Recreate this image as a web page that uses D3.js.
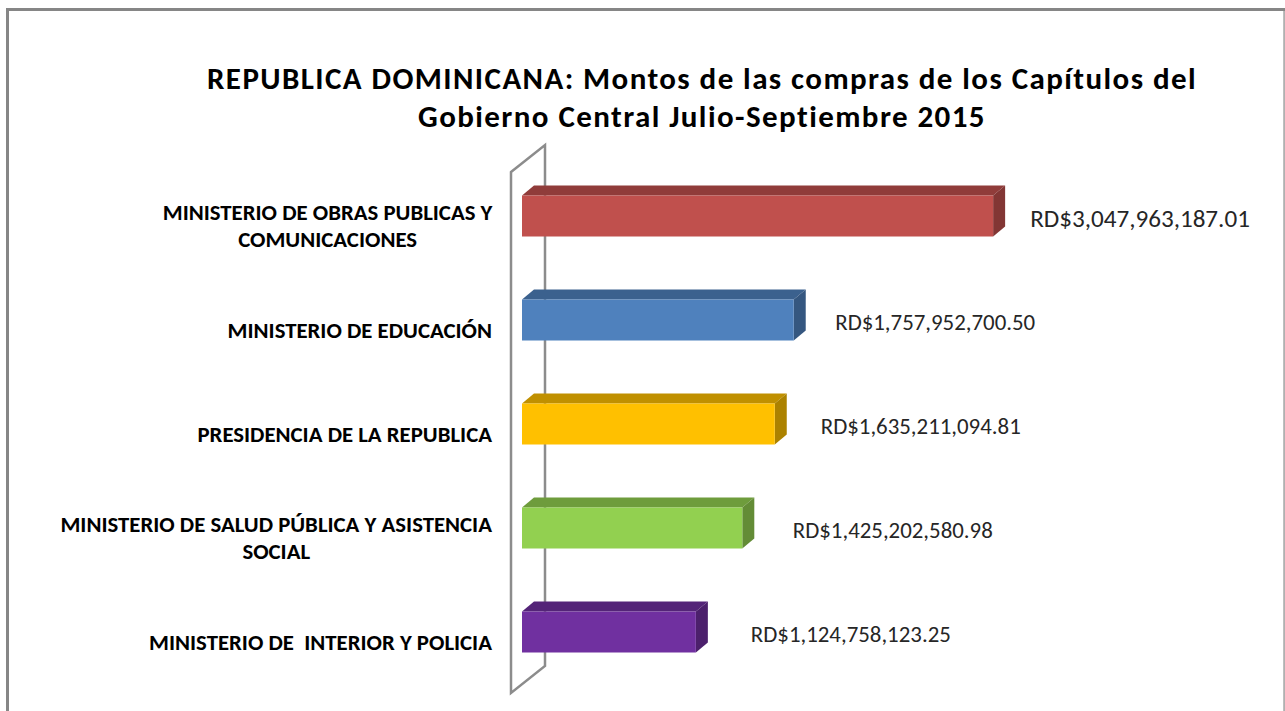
<!DOCTYPE html>
<html>
<head>
<meta charset="utf-8">
<script src="https://cdn.jsdelivr.net/npm/d3@7"></script>
<style>
  html, body { margin: 0; padding: 0; background: #ffffff; }
  svg { display: block; }
  text { white-space: pre; }
</style>
</head>
<body>
<svg id="chart" width="1285" height="711"></svg>
<script>
// ---- data ----
const categories = [
  "MINISTERIO DE OBRAS PUBLICAS Y\nCOMUNICACIONES",
  "MINISTERIO DE EDUCACIÓN",
  "PRESIDENCIA DE LA REPUBLICA",
  "MINISTERIO DE SALUD PÚBLICA Y ASISTENCIA\nSOCIAL",
  "MINISTERIO DE  INTERIOR Y POLICIA"
];
const values = [3047963187.01, 1757952700.50, 1635211094.81, 1425202580.98, 1124758123.25];
const valueLabels = [
  "RD$3,047,963,187.01",
  "RD$1,757,952,700.50",
  "RD$1,635,211,094.81",
  "RD$1,425,202,580.98",
  "RD$1,124,758,123.25"
];
const colors = ["#C0504D", "#4F81BD", "#FFC000", "#92D050", "#7030A0"];
const titleLines = [
  "REPUBLICA DOMINICANA: Montos de las compras de los Capítulos del",
  "Gobierno Central Julio-Septiembre 2015"
];

// ---- layout ----
const svg = d3.select("#chart");
const FONT = "Carlito, Calibri, 'Liberation Sans', Arial, sans-serif";

const x = d3.scaleLinear().domain([0, 3.5e9]).range([522, 1063]);
const y = d3.scaleBand().domain(d3.range(categories.length)).range([164, 684]).padding(0);
const barH = 41;
const depth = { dx: 12, dy: -10 };
const wallDepth = { dx: 34, dy: -27 };

// frame
svg.append("line").attr("x1", 6).attr("x2", 1285).attr("y1", 9.5).attr("y2", 9.5)
  .attr("stroke", "#868686").attr("stroke-width", 3);
svg.append("line").attr("x1", 7.5).attr("x2", 7.5).attr("y1", 8).attr("y2", 711)
  .attr("stroke", "#868686").attr("stroke-width", 3);
svg.append("line").attr("x1", 1284.2).attr("x2", 1284.2).attr("y1", 11).attr("y2", 711)
  .attr("stroke", "#b0b0b0").attr("stroke-width", 2);

// back wall (value-zero plane)
const wx = 511, wTop = y.range()[0] + 8, wBot = y.range()[1] + 9;
svg.append("path")
  .attr("d", `M${wx},${wTop} L${wx + wallDepth.dx},${wTop + wallDepth.dy} L${wx + wallDepth.dx},${wBot + wallDepth.dy} L${wx},${wBot} Z`)
  .attr("fill", "none").attr("stroke", "#8c8c8c").attr("stroke-width", 2.5)
  .attr("stroke-linejoin", "miter");

// bars
const g = svg.append("g");
values.forEach((v, i) => {
  const cy = y(i) + y.bandwidth() / 2;
  const y0 = cy - barH / 2, y1 = cy + barH / 2;
  const x0 = x(0), x1 = x(v);
  const base = d3.color(colors[i]);
  const topC = base.darker(0.8).formatHex();
  const sideC = base.darker(1.1).formatHex();
  g.append("path")
    .attr("d", `M${x0},${y0} L${x0 + depth.dx},${y0 + depth.dy} L${x1 + depth.dx},${y0 + depth.dy} L${x1},${y0} Z`)
    .attr("fill", topC);
  g.append("path")
    .attr("d", `M${x1},${y0} L${x1 + depth.dx},${y0 + depth.dy} L${x1 + depth.dx},${y1 + depth.dy} L${x1},${y1} Z`)
    .attr("fill", sideC);
  g.append("rect").attr("x", x0).attr("y", y0).attr("width", x1 - x0).attr("height", barH)
    .attr("fill", colors[i]);
});

// value labels
const vl = svg.append("g").selectAll("text").data(values).join("text")
  .attr("x", (d, i) => x(d) + 37 + 4.5 * i)
  .attr("y", (d, i) => y(i) + y.bandwidth() / 2 + 2)
  .attr("dy", "0.35em")
  .attr("font-family", FONT)
  .attr("font-size", 20)
  .attr("fill", "#262626")
  .text((d, i) => valueLabels[i]);
{
  const w = vl.nodes()[1].getComputedTextLength();
  const fs = 20 * 200 / w;
  vl.attr("font-size", (d, i) => i === 0 ? fs * 1.1 : fs);
}

// category labels
const labelRight = 492;
const catG = svg.append("g");
const catTexts = [];
categories.forEach((c, i) => {
  const lines = c.split("\n");
  const cy = y(i) + y.bandwidth() / 2 + 10;
  const t = catG.append("text")
    .attr("font-family", FONT).attr("font-weight", "bold")
    .attr("font-size", 16).attr("fill", "#000");
  lines.forEach((ln) => { t.append("tspan").text(ln); });
  catTexts.push({ t, lines, cy });
});
{
  const ts = catTexts[3].t.select("tspan").node();
  const w = ts.getComputedTextLength();
  const fs = 16 * 432 / w;
  catTexts.forEach(o => o.t.attr("font-size", fs));
  const lh = 27;
  catTexts.forEach(o => {
    const spans = o.t.selectAll("tspan").nodes();
    const widths = spans.map(s => s.getComputedTextLength());
    const maxW = d3.max(widths);
    const center = labelRight - maxW / 2;
    const n = spans.length;
    spans.forEach((s, k) => {
      d3.select(s)
        .attr("x", center)
        .attr("text-anchor", "middle")
        .attr("y", o.cy + (k - (n - 1) / 2) * lh)
        .attr("dy", "0.35em");
    });
  });
}

// title
const titleFs = 31;
const tt = svg.append("g").selectAll("text").data(titleLines).join("text")
  .attr("x", 702)
  .attr("y", (d, i) => 89 + i * 38)
  .attr("text-anchor", "middle")
  .attr("font-family", FONT).attr("font-weight", "bold")
  .attr("font-size", titleFs).attr("fill", "#000")
  .text(d => d);
{
  const n0 = tt.nodes()[0];
  const w = n0.getComputedTextLength();
  const chars = titleLines[0].length;
  const ls = Math.max(0, (990 - w) / chars);
  tt.attr("letter-spacing", ls);
}
</script>
</body>
</html>
